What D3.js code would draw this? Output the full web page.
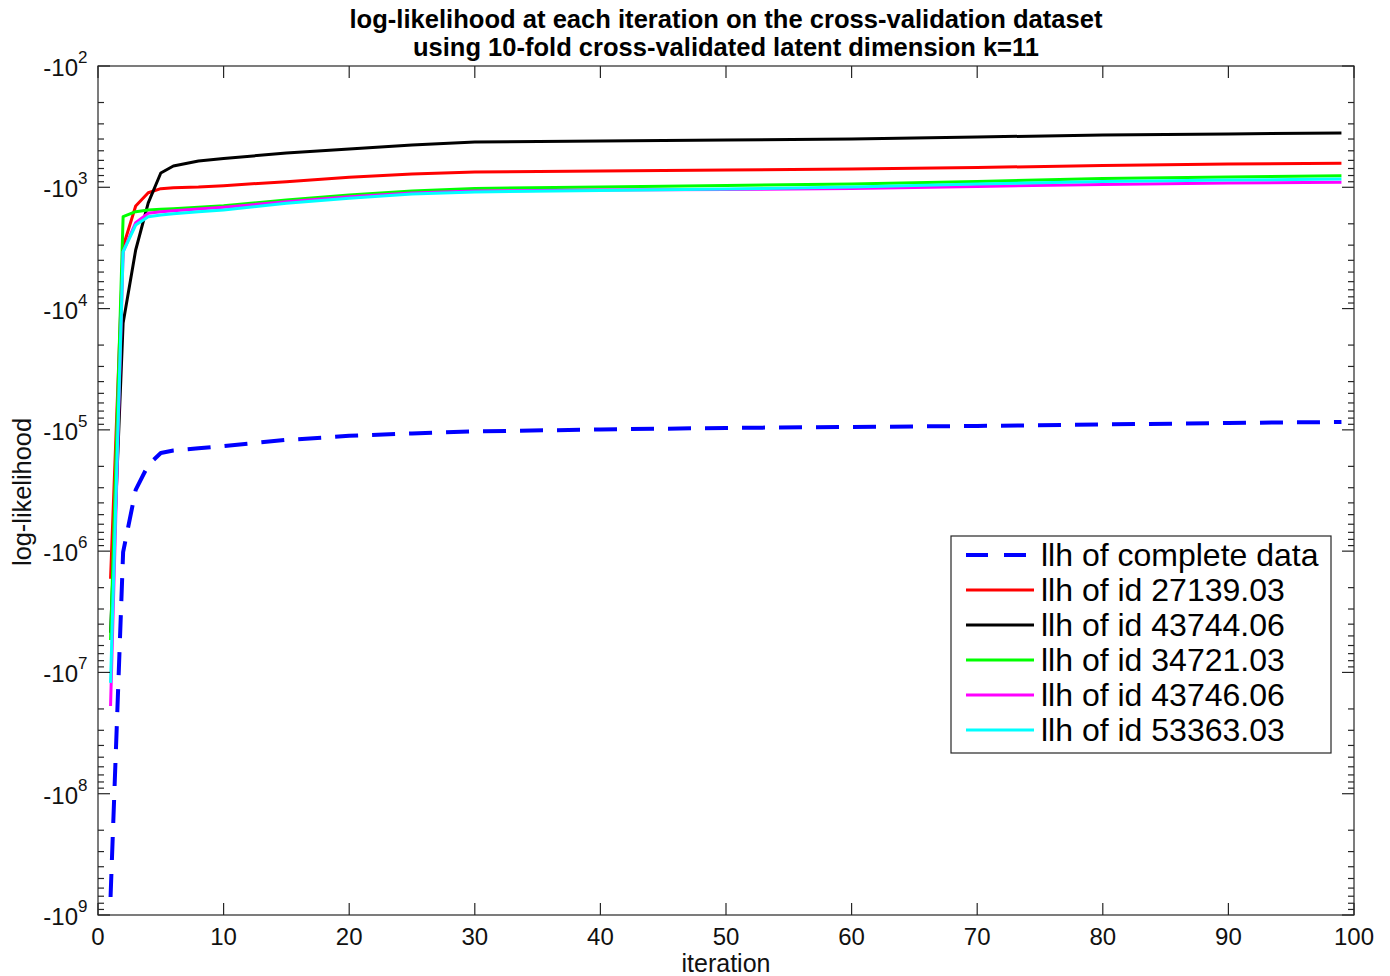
<!DOCTYPE html>
<html>
<head>
<meta charset="utf-8">
<script src="https://cdn.jsdelivr.net/npm/d3@7"></script>
<style>
  html, body { margin: 0; padding: 0; background: #fff; }
  svg { display: block; font-family: "Liberation Sans", Arial, Helvetica, sans-serif; }
</style>
</head>
<body>
<svg id="chart" width="1390" height="976"></svg>
<script>
// ---- data ----
const iterations = [1, 2, 3, 4, 5, 6, 8, 10, 15, 20, 25, 30, 40, 50, 60, 70, 80, 90, 99];

const llhComplete = [-7.1e8, -1.02e6, -3.13e5, -1.95e5, -1.55e5, -1.48e5, -1.42e5, -1.36e5, -1.21e5, -1.12e5, -1.07e5, -1.03e5, -9.93e4, -9.64e4, -9.46e4, -9.29e4, -9.03e4, -8.77e4, -8.61e4];
const llh27139 = [-1.69e6, -3090, -1426, -1109, -1026, -1007, -995, -970, -899, -828, -776, -748, -734, -720, -706, -687, -661, -643, -634];
const llh43744 = [-4.72e6, -13150, -3289, -1346, -762, -667, -607, -579, -521, -483, -448, -424, -415, -407, -400, -385, -371, -363, -356];
const llh34721 = [-5.4e6, -1746, -1589, -1538, -1520, -1500, -1460, -1419, -1274, -1156, -1072, -1023, -995, -967, -939, -896, -846, -822, -802];
const llh43746 = [-1.89e7, -3396, -1959, -1637, -1589, -1560, -1510, -1462, -1315, -1194, -1114, -1072, -1052, -1043, -1023, -985, -948, -922, -910];
const llh53363 = [-1.22e7, -3412, -2046, -1746, -1690, -1650, -1590, -1538, -1355, -1233, -1135, -1094, -1062, -1033, -995, -939, -896, -871, -855];

const seriesNames = ["llh of complete data", "llh of id 27139.03", "llh of id 43744.06", "llh of id 34721.03", "llh of id 43746.06", "llh of id 53363.03"];
const seriesValues = [llhComplete, llh27139, llh43744, llh34721, llh43746, llh53363];
const seriesColors = ["#0000ff", "#ff0000", "#000000", "#00ff00", "#ff00ff", "#00ffff"];
const seriesDashed = [true, false, false, false, false, false];

const xTicks = [0, 10, 20, 30, 40, 50, 60, 70, 80, 90, 100];
const yExponents = [2, 3, 4, 5, 6, 7, 8, 9];

const titleLines = ["log-likelihood at each iteration on the cross-validation dataset",
                    "using 10-fold cross-validated latent dimension k=11"];
const xLabel = "iteration";
const yLabel = "log-likelihood";

// ---- layout ----
const L = 98, R = 1354, T = 66, B = 915;
const axisColor = "#262626";

const svg = d3.select("#chart");
const x = d3.scaleLinear().domain([0, 100]).range([L, R]);
// magnitude on a log scale: -10^2 at top, -10^9 at bottom
const y = d3.scaleLog().domain([1e2, 1e9]).range([T, B]);

// ---- lines ----
const line = d3.line()
  .x(d => x(d.it))
  .y(d => y(-d.v));

svg.append("clipPath").attr("id", "clip")
  .append("rect").attr("x", L).attr("y", T).attr("width", R - L).attr("height", B - T);

const plotG = svg.append("g").attr("clip-path", "url(#clip)");
seriesValues.forEach((vals, i) => {
  const pts = iterations.map((it, j) => ({ it, v: vals[j] }));
  plotG.append("path")
    .datum(pts)
    .attr("d", line)
    .attr("fill", "none")
    .attr("stroke", seriesColors[i])
    .attr("stroke-width", seriesDashed[i] ? 4 : 3)
    .attr("stroke-dasharray", seriesDashed[i] ? "23,14" : null)
    .attr("stroke-linejoin", "round");
});

// ---- frame ----
svg.append("rect")
  .attr("x", L).attr("y", T).attr("width", R - L).attr("height", B - T)
  .attr("fill", "none").attr("stroke", axisColor).attr("stroke-width", 1.2);

const tickG = svg.append("g").attr("stroke", axisColor).attr("stroke-width", 1.2);
xTicks.forEach(t => {
  tickG.append("line").attr("x1", x(t)).attr("x2", x(t)).attr("y1", B).attr("y2", B - 12);
  tickG.append("line").attr("x1", x(t)).attr("x2", x(t)).attr("y1", T).attr("y2", T + 12);
});
svg.append("g").selectAll("text").data(xTicks).join("text")
  .attr("x", d => x(d)).attr("y", B + 30)
  .attr("text-anchor", "middle")
  .attr("font-size", 24).attr("fill", "#111")
  .text(d => d);

const yMinor = y.ticks().filter(v => Math.abs(Math.log10(v) - Math.round(Math.log10(v))) > 1e-9);
yExponents.forEach(e => {
  const v = Math.pow(10, e);
  tickG.append("line").attr("x1", L).attr("x2", L + 12).attr("y1", y(v)).attr("y2", y(v));
  tickG.append("line").attr("x1", R).attr("x2", R - 12).attr("y1", y(v)).attr("y2", y(v));
});
yMinor.forEach(v => {
  tickG.append("line").attr("x1", L).attr("x2", L + 6).attr("y1", y(v)).attr("y2", y(v));
  tickG.append("line").attr("x1", R).attr("x2", R - 6).attr("y1", y(v)).attr("y2", y(v));
});

const yLab = svg.append("g");
yExponents.forEach(e => {
  const yy = y(Math.pow(10, e));
  yLab.append("text")
    .attr("x", 78).attr("y", yy + 10)
    .attr("text-anchor", "end")
    .attr("font-size", 24).attr("fill", "#111")
    .text("-10");
  yLab.append("text")
    .attr("x", 78).attr("y", yy - 3)
    .attr("text-anchor", "start")
    .attr("font-size", 17).attr("fill", "#111")
    .text(e);
});

// ---- axis labels & title ----
svg.append("text")
  .attr("x", (L + R) / 2).attr("y", 972)
  .attr("text-anchor", "middle").attr("font-size", 25).attr("fill", "#111")
  .text(xLabel);

svg.append("text")
  .attr("transform", `translate(31, ${492}) rotate(-90)`)
  .attr("text-anchor", "middle").attr("font-size", 25).attr("fill", "#111")
  .attr("textLength", 148).attr("lengthAdjust", "spacingAndGlyphs")
  .text(yLabel);

svg.append("text")
  .attr("x", 726).attr("y", 28)
  .attr("text-anchor", "middle").attr("font-size", 25).attr("font-weight", "bold").attr("fill", "#000")
  .attr("textLength", 753).attr("lengthAdjust", "spacingAndGlyphs")
  .text(titleLines[0]);
svg.append("text")
  .attr("x", 726).attr("y", 56)
  .attr("text-anchor", "middle").attr("font-size", 25).attr("font-weight", "bold").attr("fill", "#000")
  .attr("textLength", 626).attr("lengthAdjust", "spacingAndGlyphs")
  .text(titleLines[1]);

// ---- legend ----
const lg = svg.append("g");
lg.append("rect")
  .attr("x", 951).attr("y", 536).attr("width", 380).attr("height", 217)
  .attr("fill", "#fff").attr("stroke", axisColor).attr("stroke-width", 1.2);
seriesNames.forEach((name, i) => {
  const cy = 555 + i * 35;
  lg.append("line")
    .attr("x1", 966).attr("x2", 1034).attr("y1", cy).attr("y2", cy)
    .attr("stroke", seriesColors[i])
    .attr("stroke-width", seriesDashed[i] ? 4 : 3)
    .attr("stroke-dasharray", seriesDashed[i] ? "22,16" : null);
  lg.append("text")
    .attr("x", 1041).attr("y", cy + 11)
    .attr("font-size", 32).attr("fill", "#000")
    .text(name);
});
</script>
</body>
</html>
